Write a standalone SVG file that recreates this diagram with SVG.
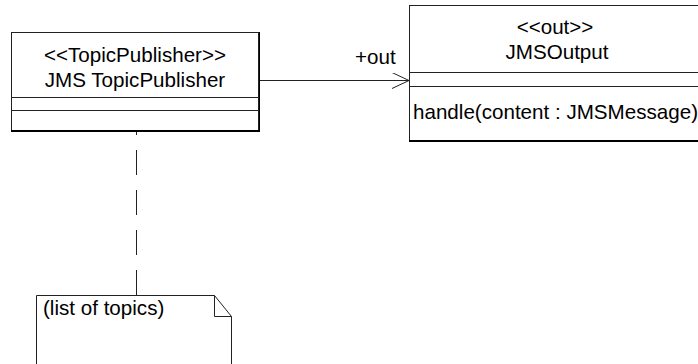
<svg xmlns="http://www.w3.org/2000/svg" width="698" height="364" viewBox="0 0 698 364">
<style>
text{font-family:"Liberation Sans",Arial,sans-serif;font-size:20.6px;fill:#000}
.c{text-anchor:middle}
.b{fill:#fff;stroke:#222;stroke-width:1}
.l{stroke:#222;stroke-width:1;fill:none}
</style>
<defs>
<marker id="open" markerWidth="20" markerHeight="20" refX="17" refY="8" orient="auto" markerUnits="userSpaceOnUse">
<path d="M0,0 L17,8 L0,16" fill="none" stroke="#222" stroke-width="1"/>
</marker>
</defs>
<rect width="698" height="364" fill="#fff"/>
<g id="connectors">
<line class="l" x1="260" y1="80.5" x2="409" y2="80.5" marker-end="url(#open)"/>
<line class="l" x1="136.5" y1="295" x2="136.5" y2="131" stroke-dasharray="25 15"/>
<text x="355" y="64">+out</text>
</g>
<g id="topicPublisher">
<rect class="b" x="11.5" y="32.5" width="247" height="98"/>
<line class="l" x1="11.5" y1="97.5" x2="258.5" y2="97.5"/>
<line class="l" x1="11.5" y1="110.5" x2="258.5" y2="110.5"/>
<line stroke="#000" stroke-width="2" x1="11" y1="131" x2="260" y2="131"/>
<line stroke="#000" stroke-width="1" x1="259.5" y1="32" x2="259.5" y2="132"/>
<text class="c" x="135" y="62">&lt;&lt;TopicPublisher&gt;&gt;</text>
<text class="c" x="135" y="87">JMS TopicPublisher</text>
</g>
<g id="jmsOutput">
<rect class="b" x="409.5" y="5.5" width="300" height="135"/>
<line class="l" x1="409.5" y1="72.5" x2="698" y2="72.5"/>
<line class="l" x1="409.5" y1="86.5" x2="698" y2="86.5"/>
<line stroke="#000" stroke-width="2" x1="409" y1="141" x2="698" y2="141"/>
<text class="c" x="555" y="34">&lt;&lt;out&gt;&gt;</text>
<text class="c" x="557" y="58.5">JMSOutput</text>
<text x="413" y="119">handle(content : JMSMessage)</text>
</g>
<g id="note">
<path class="b" d="M36.5,370 L36.5,295.5 L214.5,295.5 L231.5,316.5 L231.5,370"/>
<path class="l" d="M214.5,295.5 L214.5,316.5 L231.5,316.5"/>
<text x="43" y="315">(list of topics)</text>
</g>
</svg>
